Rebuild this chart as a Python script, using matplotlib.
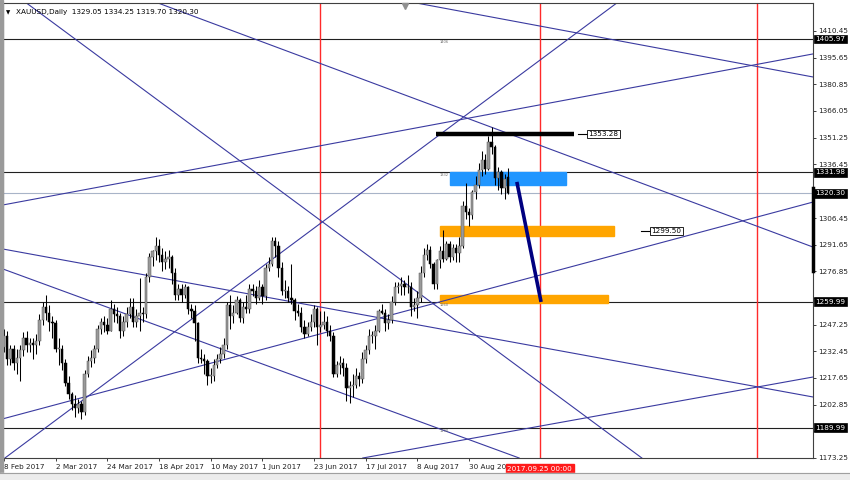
import matplotlib
matplotlib.use("Agg")
import matplotlib.pyplot as plt
from matplotlib.patches import Rectangle
from matplotlib.transforms import blended_transform_factory

# ---------------- data ----------------
opens = [1235,1241,1228,1234,1226,1229,1233,1240,1236,1237,1236,1238,1250,1257,1254,1249,1248,1234,1234,1226,
         1215,1209,1203,1201,1203,1199,1220,1227,1229,1234,1245,1249,1247,1244,1256,1253,1252,1244,1249,1253,
         1257,1249,1252,1254,1253,1274,1285,1288,1291,1286,1282,1284,1285,1276,1264,1267,1264,1268,1256,1255,
         1248,1229,1228,1227,1219,1219,1225,1228,1231,1236,1258,1252,1254,1261,1251,1257,1256,1267,1266,1262,
         1268,1263,1279,1281,1294,1291,1279,1266,1266,1262,1261,1255,1254,1246,1242,1246,1249,1256,1246,1247,
         1249,1244,1241,1220,1225,1226,1223,1212,1213,1214,1219,1217,1228,1233,1241,1241,1244,1255,1254,1248,
         1250,1260,1268,1269,1270,1268,1268,1257,1258,1262,1276,1286,1289,1281,1270,1283,1288,1284,1292,1285,
         1290,1287,1291,1313,1310,1308,1321,1325,1333,1339,1334,1349,1346,1329,1332,1323,1329.05]
highs = [1245,1244,1236,1236,1234,1236,1243,1244,1240,1240,1242,1253,1260,1264,1258,1252,1250,1240,1236,1228,
         1219,1210,1208,1206,1205,1222,1230,1233,1236,1247,1251,1252,1251,1261,1259,1257,1254,1252,1257,1262,
         1262,1256,1273,1257,1276,1287,1289,1296,1295,1290,1288,1289,1286,1279,1270,1270,1270,1269,1259,1258,
         1249,1234,1231,1228,1223,1228,1231,1235,1240,1260,1264,1258,1263,1262,1260,1264,1270,1270,1269,1272,
         1270,1281,1285,1296,1296,1294,1282,1272,1269,1281,1262,1259,1257,1250,1249,1253,1258,1257,1255,1255,
         1252,1247,1243,1227,1230,1229,1226,1216,1220,1223,1221,1232,1236,1245,1244,1247,1256,1259,1256,1253,
         1263,1271,1271,1274,1272,1275,1271,1262,1266,1280,1290,1292,1291,1282,1284,1291,1300,1294,1294,1292,
         1292,1296,1316,1326,1312,1322,1330,1337,1344,1342,1352,1357,1347,1335,1333,1331,1334.25]
lows = [1232,1225,1225,1222,1220,1216,1230,1232,1232,1228,1231,1236,1247,1250,1244,1240,1232,1225,1222,1213,
        1206,1200,1196,1198,1195,1197,1218,1224,1226,1232,1242,1243,1242,1244,1249,1248,1240,1241,1246,1251,
        1246,1246,1244,1249,1251,1271,1280,1283,1282,1277,1278,1279,1270,1261,1261,1260,1262,1253,1251,1238,
        1226,1226,1220,1214,1215,1216,1223,1226,1229,1234,1245,1248,1253,1249,1248,1254,1254,1263,1259,1261,
        1259,1261,1277,1280,1285,1274,1264,1262,1260,1259,1250,1252,1243,1240,1241,1244,1246,1236,1243,1245,
        1241,1238,1218,1218,1220,1219,1205,1204,1207,1212,1213,1215,1226,1231,1237,1234,1243,1253,1244,1245,
        1248,1258,1265,1264,1264,1265,1252,1255,1251,1260,1274,1283,1279,1267,1267,1279,1282,1283,1282,1283,
        1282,1282,1290,1306,1302,1306,1317,1323,1330,1331,1333,1342,1325,1322,1320,1317,1319.70]
closes = [1241,1228,1234,1226,1229,1233,1240,1236,1237,1236,1238,1250,1257,1254,1249,1248,1234,1234,1226,1215,
          1209,1203,1201,1203,1199,1220,1227,1229,1234,1245,1249,1247,1244,1256,1253,1252,1244,1249,1253,1257,
          1249,1252,1254,1253,1274,1285,1288,1291,1286,1282,1284,1285,1276,1264,1267,1264,1268,1256,1255,1248,
          1229,1228,1227,1219,1219,1225,1228,1231,1236,1258,1252,1254,1261,1251,1257,1256,1267,1266,1262,1268,
          1263,1279,1281,1294,1291,1279,1266,1266,1262,1261,1255,1254,1246,1242,1246,1249,1256,1246,1247,1249,
          1244,1241,1220,1225,1226,1223,1212,1213,1214,1219,1217,1228,1233,1241,1241,1244,1255,1254,1248,1250,
          1260,1268,1269,1270,1268,1268,1257,1258,1262,1276,1286,1289,1281,1270,1283,1288,1284,1292,1285,1290,
          1287,1291,1313,1310,1308,1321,1325,1333,1339,1334,1349,1346,1329,1332,1323,1328,1320.30]

date_tick_pos = [0, 16, 32, 48, 64, 80, 96, 112, 128, 144]
date_tick_labels = ["8 Feb 2017", "2 Mar 2017", "24 Mar 2017", "18 Apr 2017", "10 May 2017",
                    "1 Jun 2017", "23 Jun 2017", "17 Jul 2017", "8 Aug 2017", "30 Aug 201"]
price_ticks = [1410.45, 1395.65, 1380.85, 1366.05, 1351.25, 1336.45, 1321.65, 1306.45, 1291.65,
               1276.85, 1262.05, 1247.25, 1232.45, 1217.65, 1202.85, 1188.05, 1173.25]
hidden_ticks = [1321.65, 1262.05, 1188.05]   # covered by the price boxes

hlines_black = [1405.97, 1331.98, 1259.99, 1189.99]
hline_tags = ["1406", "1332", "1260", "1190"]
hline_tag_bar = 135.0
bid_price = 1320.30
vlines_red = [97.8, 165.9, 233.1]
future_label = "2017.09.25 00:00"

# trend lines: ((bar, price), (bar, price))
trendlines = [
    ((6.5, 1426.6), (197.5, 1173.2)),
    ((47.7, 1426.0), (250.5, 1290.4)),
    ((0.3, 1173.2), (60.7, 1253.8)),
    ((-0.3, 1289.3), (250.5, 1207.1)),
    ((-0.3, 1278.2), (144.3, 1183.2)),
    ((79.3, 1233.2), (250.5, 1315.4)),
    ((111.1, 1173.2), (250.5, 1218.2)),
    ((-0.3, 1313.8), (250.5, 1397.7)),
    ((122.6, 1427.7), (250.5, 1384.9)),
]
navy_line = ((158.8, 1326.6), (166.3, 1259.9))
black_bar = (133.7, 176.5, 1353.28)
blue_box = (138.1, 174.0, 1325.0, 1332.1)
orange_boxes = [(135.0, 188.9, 1296.5, 1302.1), (135.0, 187.0, 1259.3, 1263.8)]
label_1353 = (181.0, 1353.28, "1353.28")
label_1299 = (200.5, 1299.50, "1299.50")

title = "XAUUSD,Daily  1329.05 1334.25 1319.70 1320.30"

# ---------------- figure ----------------
FS = 5.2
plt.rcParams['font.family'] = ['DejaVu Sans']
fig = plt.figure(figsize=(8.5, 4.8), dpi=100)
fig.patch.set_facecolor("white")
ax = fig.add_axes([3/850, 22/480, 810/850, 455/480])
ax.set_xlim(-0.3, 250.5)
ax.set_ylim(1173.2, 1426.0)

# frame strips
fig.patches.append(Rectangle((0, 0), 2.5/850, 1, transform=fig.transFigure, color="#9a9a9a", zorder=0))
fig.patches.append(Rectangle((0, 0), 1, 7/480, transform=fig.transFigure, color="#ececec", zorder=0))
fig.lines.append(plt.Line2D([0, 1], [7/480, 7/480], transform=fig.transFigure, color="#a0a0a0", lw=0.8))

# horizontal lines
for p in hlines_black:
    ax.axhline(p, color="#202020", lw=0.8, zorder=1)
ax.axhline(bid_price, color="#a8b4c8", lw=0.8, zorder=1)
for p, t in zip(hlines_black, hline_tags):
    ax.text(hline_tag_bar, p - 0.6, t, fontsize=2.6, color="#707070", ha="left", va="top", zorder=6)

# red vertical lines
for v in vlines_red:
    ax.axvline(v, color="#ff2a2a", lw=1.0, zorder=1)

# trend lines
for a, b in trendlines:
    ax.axline(a, b, color="#3a3aa0", lw=0.8, zorder=1.5)

# rectangles
x0, x1, y0, y1 = blue_box
ax.add_patch(Rectangle((x0, y0), x1 - x0, y1 - y0, color="#2196ff", zorder=1.2))
for x0, x1, y0, y1 in orange_boxes:
    ax.add_patch(Rectangle((x0, y0), x1 - x0, y1 - y0, color="#ffa500", zorder=1.2))

# candles
n = len(closes)
idx = list(range(n))
ax.vlines(idx, lows, highs, color="#000000", lw=0.75, zorder=3)
bull = [i for i in idx if closes[i] >= opens[i]]
bear = [i for i in idx if closes[i] < opens[i]]
ax.bar(bull, [max(closes[i] - opens[i], 0.4) for i in bull], bottom=[opens[i] for i in bull],
       width=0.75, color="#9a9a9a", edgecolor="#555555", lw=0.35, zorder=4)
ax.bar(bear, [max(opens[i] - closes[i], 0.4) for i in bear], bottom=[closes[i] for i in bear],
       width=0.75, color="#000000", edgecolor="#000000", lw=0.35, zorder=4)

# black thick line and navy line
ax.plot([black_bar[0], black_bar[1]], [black_bar[2], black_bar[2]], color="black", lw=3.2,
        solid_capstyle="butt", zorder=5)
ax.plot([navy_line[0][0], navy_line[1][0]], [navy_line[0][1], navy_line[1][1]], color="#000080",
        lw=2.6, solid_capstyle="butt", zorder=5)

# boxed labels
for lx, ly, lt in [label_1353, label_1299]:
    ax.plot([lx - 3.2, lx - 0.4], [ly, ly], color="black", lw=0.8, zorder=5)
    ax.text(lx, ly, lt, fontsize=FS, va="center", ha="left", zorder=6,
            bbox=dict(boxstyle="square,pad=0.15", fc="white", ec="black", lw=0.6))

# axes styling
for s in ax.spines.values():
    s.set_color("#404040")
    s.set_linewidth(0.8)
ax.yaxis.tick_right()
ax.set_yticks(price_ticks)
ax.set_yticklabels(["" if p in hidden_ticks else f"{p:.2f}" for p in price_ticks])
ax.tick_params(axis="y", direction="out", length=2, width=0.6, pad=1.5, labelsize=FS, colors="#202020")
ax.set_xticks(date_tick_pos)
ax.set_xticklabels(date_tick_labels, ha="left")
ax.tick_params(axis="x", direction="out", length=2.5, width=0.6, pad=1.5, labelsize=FS, colors="#202020")

# right-axis price boxes
ytr = blended_transform_factory(ax.transAxes, ax.transData)
for p in hlines_black + [bid_price]:
    ax.text(1.003, p, f"{p:.2f}", transform=ytr, fontsize=FS, color="white", va="center", ha="left",
            zorder=10, clip_on=False,
            bbox=dict(boxstyle="square,pad=0.2", fc="black", ec="black", lw=0.5))
# thick bar on price axis
ax.plot([1.0, 1.0], [1277.0, 1323.0], transform=ytr, color="black", lw=2.5, clip_on=False, zorder=9)

# future time label
xtr = blended_transform_factory(ax.transData, ax.transAxes)
ax.text(vlines_red[1], -0.018, future_label, transform=xtr, fontsize=FS, color="white",
        va="top", ha="center", zorder=10, clip_on=False,
        bbox=dict(boxstyle="square,pad=0.25", fc="#ff1a1a", ec="#ff1a1a"))

# title and shift marker
ax.text(0.004, 0.985, "\u25bc", transform=ax.transAxes, fontsize=4, va="top", ha="left", zorder=10)
ax.text(0.016, 0.987, title, transform=ax.transAxes, fontsize=FS, va="top", ha="left", zorder=10)
ax.plot([124.1], [1424.5], marker="v", color="#909090", markersize=4, zorder=10, clip_on=False)

fig.savefig("out.png", dpi=100)
